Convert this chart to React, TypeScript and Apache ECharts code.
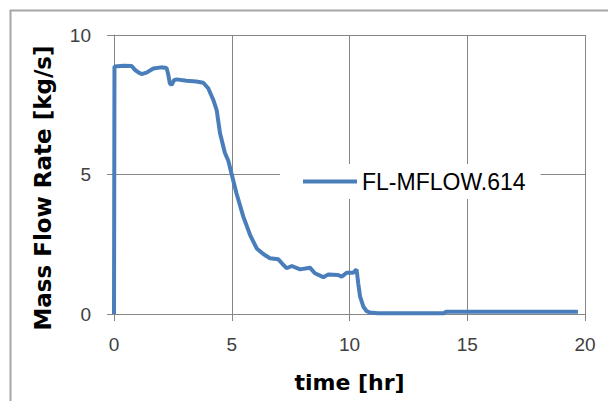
import React, { useEffect, useRef } from "react";
import * as echarts from "echarts";

const timeHr = [0, 0.02, 0.4, 0.75, 0.89, 1.05, 1.17, 1.38, 1.67, 2.0, 2.23, 2.3, 2.37, 2.44, 2.55, 2.66, 3.08, 3.5, 3.79, 4.0, 4.22, 4.36, 4.5, 4.71, 4.85, 5.0, 5.2, 5.49, 5.78, 6.06, 6.34, 6.62, 6.98, 7.15, 7.33, 7.55, 7.9, 8.32, 8.53, 8.89, 9.1, 9.52, 9.67, 9.88, 10.16, 10.3, 10.37, 10.45, 10.59, 10.73, 10.87, 11.2, 14.0, 14.1, 19.7];
const massFlow = [0, 8.87, 8.9, 8.89, 8.75, 8.65, 8.6, 8.65, 8.8, 8.84, 8.82, 8.6, 8.27, 8.21, 8.38, 8.41, 8.36, 8.33, 8.29, 8.09, 7.67, 7.31, 6.49, 5.77, 5.5, 5.0, 4.33, 3.49, 2.83, 2.35, 2.15, 2.0, 1.96, 1.8, 1.64, 1.72, 1.6, 1.66, 1.46, 1.32, 1.42, 1.4, 1.34, 1.48, 1.48, 1.6, 1.1, 0.62, 0.26, 0.1, 0.05, 0.03, 0.03, 0.08, 0.08];
const seriesName = "FL-MFLOW.614";
const xTitle = "time [hr]";
const yTitle = "Mass Flow Rate [kg/s]";

export default function App() {
  const ref = useRef<HTMLDivElement>(null);
  useEffect(() => {
    document.body.style.margin = "0";
    const chart = echarts.init(ref.current!, null, { renderer: "svg" });
    const gridColor = "#868686";
    const lineColor = "#4A7EBB";
    const labelStyle = { fontFamily: "Liberation Sans", fontSize: 19, color: "#404040" };
    const titleStyle = { fontFamily: "DejaVu Sans", fontSize: 22, fontWeight: "bold" as const, color: "#000" };
    chart.setOption({
      animation: false,
      backgroundColor: "#fff",
      grid: { left: 114, right: 23, top: 35, bottom: 87, containLabel: false },
      xAxis: {
        type: "value", min: 0, max: 20, interval: 5,
        axisLine: { show: true, lineStyle: { color: gridColor, width: 1 } },
        axisTick: { show: true, length: 7, lineStyle: { color: gridColor } },
        splitLine: { show: true, lineStyle: { color: gridColor, width: 1 } },
        axisLabel: { ...labelStyle, margin: 21 },
        name: xTitle, nameLocation: "middle", nameGap: 57, nameTextStyle: titleStyle,
      },
      yAxis: {
        type: "value", min: 0, max: 10, interval: 5,
        axisLine: { show: true, lineStyle: { color: gridColor, width: 1 } },
        axisTick: { show: true, length: 7, lineStyle: { color: gridColor } },
        splitLine: { show: true, lineStyle: { color: gridColor, width: 1 } },
        axisLabel: { ...labelStyle, margin: 23 },
      },
      legend: {
        left: 280, top: 164,
        padding: [6, 15, 6, 23],
        itemWidth: 54, itemHeight: 4, itemGap: 5,
        icon: "rect",
        backgroundColor: "#fff",
        textStyle: { fontFamily: "Liberation Sans", fontSize: 23, color: "#000" },
        data: [seriesName],
      },
      graphic: [
        {
          type: "rect", left: 8, top: 8, silent: true, z: 100,
          shape: { x: 0, y: 0, width: 660, height: 460 },
          style: { fill: "none", stroke: "#a6a6a6", lineWidth: 2 },
        },
        {
          type: "text", x: 43, y: 188, rotation: Math.PI / 2, silent: true,
          style: {
            text: yTitle, fontFamily: "DejaVu Sans", fontSize: 23, fontWeight: "bold",
            fill: "#000", textAlign: "center", textVerticalAlign: "middle",
          },
        },
      ],
      series: [
        {
          name: seriesName,
          type: "line",
          symbol: "none",
          lineStyle: { color: lineColor, width: 4 },
          itemStyle: { color: lineColor },
          data: timeHr.map((t, i) => [t, massFlow[i]]),
        },
      ],
    });
    return () => chart.dispose();
  }, []);
  return <div ref={ref} style={{ position: "fixed", left: 0, top: 0, width: 608, height: 401 }} />;
}
